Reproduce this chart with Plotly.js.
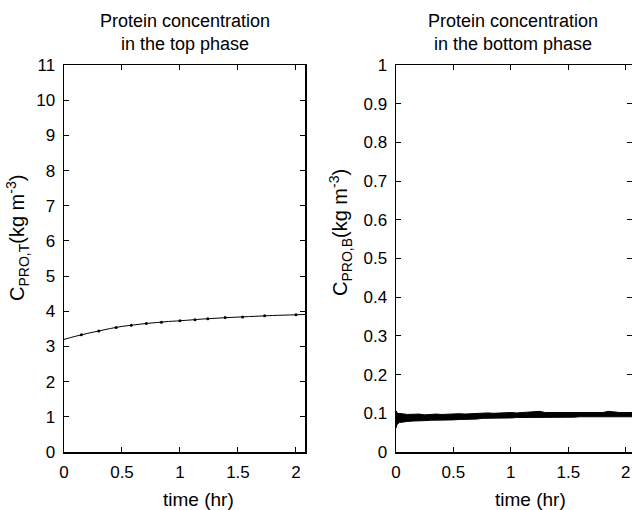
<!DOCTYPE html>
<html>
<head>
<meta charset="utf-8">
<script src="https://cdn.plot.ly/plotly-3.0.1.min.js"></script>
<style>html,body{margin:0;padding:0;background:#fff;}#chart{width:632px;height:510px;}</style>
</head>
<body>
<div id="chart"></div>
<script>
// Top phase protein concentration
const topTime = [0, 0.1, 0.2, 0.3, 0.4, 0.5, 0.6, 0.7, 0.8, 0.9, 1.0, 1.2, 1.4, 1.6, 1.8, 2.0, 2.08];
const topConc = [3.20, 3.29, 3.37, 3.44, 3.51, 3.57, 3.61, 3.65, 3.68, 3.71, 3.73, 3.78, 3.82, 3.85, 3.88, 3.90, 3.91];
const topMarkTime = [0.15, 0.30, 0.45, 0.58, 0.71, 0.84, 1.0, 1.13, 1.24, 1.39, 1.54, 1.73, 2.0];
const topMarkConc = [3.33, 3.44, 3.54, 3.60, 3.65, 3.69, 3.73, 3.76, 3.79, 3.82, 3.84, 3.87, 3.90];

// Bottom phase protein concentration (noisy band: upper and lower envelope)
const botTime = [0, 0.01, 0.03, 0.05, 0.1, 0.15, 0.2, 0.25, 0.3, 0.35, 0.4, 0.45, 0.5, 0.55, 0.6, 0.65, 0.7, 0.75, 0.8, 0.85, 0.9, 0.95, 1.0, 1.05, 1.1, 1.15, 1.2, 1.25, 1.3, 1.35, 1.4, 1.45, 1.5, 1.55, 1.6, 1.65, 1.7, 1.75, 1.8, 1.85, 1.9, 1.95, 2.0, 2.06];
const botUpper = [0.107, 0.101, 0.098, 0.099, 0.097, 0.097, 0.098, 0.096, 0.097, 0.098, 0.097, 0.098, 0.098, 0.099, 0.098, 0.099, 0.099, 0.101, 0.101, 0.100, 0.101, 0.101, 0.102, 0.101, 0.102, 0.102, 0.103, 0.105, 0.102, 0.102, 0.103, 0.102, 0.103, 0.102, 0.102, 0.102, 0.102, 0.102, 0.102, 0.105, 0.103, 0.102, 0.102, 0.102];
const botLower = [0.062, 0.072, 0.076, 0.077, 0.079, 0.080, 0.080, 0.081, 0.082, 0.082, 0.083, 0.083, 0.083, 0.084, 0.084, 0.085, 0.085, 0.087, 0.087, 0.087, 0.088, 0.088, 0.088, 0.089, 0.089, 0.089, 0.089, 0.090, 0.090, 0.090, 0.090, 0.090, 0.090, 0.090, 0.091, 0.091, 0.091, 0.091, 0.091, 0.091, 0.091, 0.091, 0.091, 0.091];

const xTicks = [0, 0.5, 1, 1.5, 2];
const xTickText = ['0', '0.5', '1', '1.5', '2'];
const yTopTicks = [0,1,2,3,4,5,6,7,8,9,10,11];
const yBotTicks = [0,0.1,0.2,0.3,0.4,0.5,0.6,0.7,0.8,0.9,1];
const yBotText = ['0','0.1','0.2','0.3','0.4','0.5','0.6','0.7','0.8','0.9','1'];

const FONT = 'Liberation Sans, Arial, sans-serif';

const traces = [
  {x: topTime, y: topConc, xaxis: 'x', yaxis: 'y', mode: 'lines', line: {color: '#000', width: 1, shape: 'spline'}, hoverinfo: 'skip'},
  {x: topMarkTime, y: topMarkConc, xaxis: 'x', yaxis: 'y', mode: 'markers', marker: {color: '#000', size: 3}, hoverinfo: 'skip'},
  {x: botTime, y: botLower, xaxis: 'x2', yaxis: 'y2', mode: 'lines', line: {color: '#000', width: 1}, hoverinfo: 'skip'},
  {x: botTime, y: botUpper, xaxis: 'x2', yaxis: 'y2', mode: 'lines', line: {color: '#000', width: 1}, fill: 'tonexty', fillcolor: '#000', hoverinfo: 'skip'}
];

const axBase = {
  showgrid: false, zeroline: false, showline: true, linecolor: '#000', linewidth: 1.5,
  mirror: 'ticks', ticks: 'inside', ticklen: 5, tickcolor: '#000', tickwidth: 1,
  tickfont: {family: FONT, size: 17, color: '#000'}
};

const yDomain = [(510 - 452) / 510, (510 - 65) / 510];

const layout = {
  width: 632, height: 510,
  margin: {l: 0, r: 0, t: 0, b: 0},
  paper_bgcolor: '#fff', plot_bgcolor: '#fff',
  showlegend: false,
  font: {family: FONT, color: '#000'},
  xaxis: Object.assign({}, axBase, {domain: [64/632, 305/632], range: [0, 2.078], tickvals: xTicks, ticktext: xTickText, anchor: 'y', ticklabelstandoff: 4}),
  yaxis: Object.assign({}, axBase, {domain: yDomain, range: [0, 11], tickvals: yTopTicks, anchor: 'x', ticklabelstandoff: 4}),
  xaxis2: Object.assign({}, axBase, {domain: [396/632, 1], range: [0, 2.055], tickvals: xTicks, ticktext: xTickText, anchor: 'y2', ticklabelstandoff: 4}),
  yaxis2: Object.assign({}, axBase, {domain: yDomain, range: [0, 1], tickvals: yBotTicks, ticktext: yBotText, anchor: 'x2', ticklabelstandoff: 4}),
  annotations: [
    {text: 'Protein concentration<br>in the top phase', xref: 'paper', yref: 'paper', x: 185/632, y: (510-32)/510, xanchor: 'center', yanchor: 'middle', showarrow: false, font: {family: FONT, size: 18, color: '#000'}},
    {text: 'Protein concentration<br>in the bottom phase', xref: 'paper', yref: 'paper', x: 513/632, y: (510-32)/510, xanchor: 'center', yanchor: 'middle', showarrow: false, font: {family: FONT, size: 18, color: '#000'}},
    {text: 'C<sub>PRO,T</sub>(kg m<sup>-3</sup>)', xref: 'paper', yref: 'paper', x: 17/632, y: (510-238)/510, xanchor: 'center', yanchor: 'middle', textangle: -90, showarrow: false, font: {family: FONT, size: 20, color: '#000'}},
    {text: 'C<sub>PRO,B</sub>(kg m<sup>-3</sup>)', xref: 'paper', yref: 'paper', x: 340/632, y: (510-233)/510, xanchor: 'center', yanchor: 'middle', textangle: -90, showarrow: false, font: {family: FONT, size: 20, color: '#000'}},
    {text: 'time (hr)', xref: 'paper', yref: 'paper', x: 198/632, y: (510-499)/510, xanchor: 'center', yanchor: 'middle', showarrow: false, font: {family: FONT, size: 19, color: '#000'}},
    {text: 'time (hr)', xref: 'paper', yref: 'paper', x: 530/632, y: (510-499)/510, xanchor: 'center', yanchor: 'middle', showarrow: false, font: {family: FONT, size: 19, color: '#000'}}
  ]
};

Plotly.newPlot('chart', traces, layout, {staticPlot: true, displayModeBar: false});
</script>
</body>
</html>
